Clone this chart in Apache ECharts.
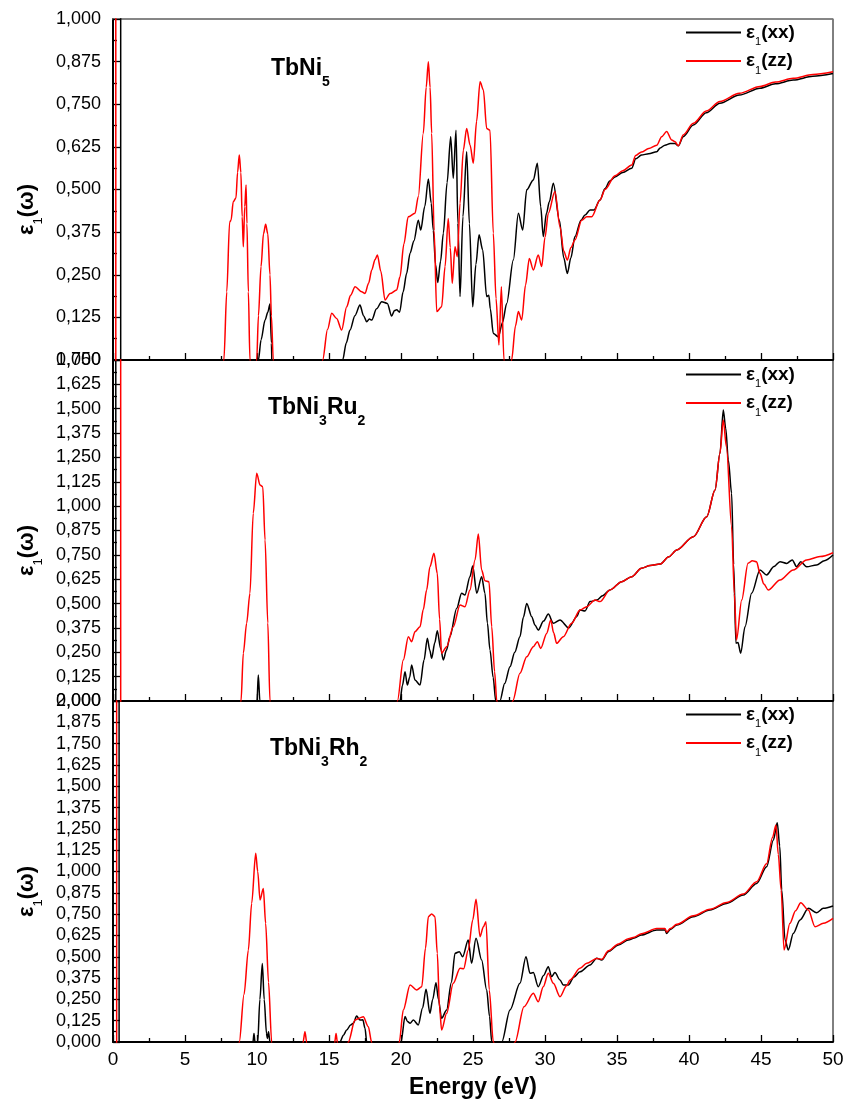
<!DOCTYPE html>
<html><head><meta charset="utf-8">
<script src="https://cdn.jsdelivr.net/npm/echarts@6/dist/echarts.min.js"></script>
<style>html,body{margin:0;padding:0;background:#fff}#c{width:856px;height:1105px}</style>
</head><body><div id="c"></div><script>
// ---- data: [energy (eV), eps1] ; values outside the axis range are clipped by the grid ----
const panelNames = ['TbNi5', 'TbNi3Ru2', 'TbNi3Rh2'];
const yMaxes = [1.0, 1.75, 2.0];
const yInterval = 0.125;
const xMin = 0, xMax = 50, xInterval = 5;

const tbni5_xx = [[0,3],[0.53,3],[0.54,-3],[5,-0.5],[9.9,-0.05],[10.1,0],[10.28,0.059],[10.56,0.117],[10.75,0.14],[10.9,0.164],[11.0,0.05],[11.1,-0.2],[13,-0.4],[15.6,-0.08],[15.95,0],[16.2,0.05],[16.46,0.088],[16.8,0.13],[17.15,0.161],[17.4,0.13],[17.62,0.112],[17.8,0.12],[17.97,0.117],[18.3,0.15],[18.66,0.171],[19.05,0.166],[19.35,0.129],[19.55,0.145],[19.7,0.147],[19.9,0.14],[20.15,0.2],[20.39,0.254],[20.63,0.313],[20.9,0.35],[21.2,0.41],[21.37,0.381],[21.65,0.45],[21.9,0.531],[22.1,0.46],[22.24,0.381],[22.4,0.28],[22.55,0.227],[22.75,0.29],[22.94,0.372],[23.2,0.52],[23.45,0.655],[23.63,0.533],[23.82,0.674],[23.95,0.4],[24.1,0.186],[24.3,0.42],[24.56,0.611],[24.75,0.4],[24.98,0.156],[25.2,0.28],[25.42,0.367],[25.67,0.323],[25.95,0.186],[26.1,0.19],[26.2,0.15],[26.41,0.078],[26.76,0.068],[27.05,0.11],[27.34,0.166],[27.8,0.293],[28.15,0.43],[28.45,0.381],[28.73,0.499],[29.19,0.528],[29.47,0.577],[29.7,0.45],[29.88,0.362],[30.1,0.43],[30.3,0.464],[30.58,0.518],[31.0,0.41],[31.3,0.3],[31.55,0.254],[31.8,0.3],[32.08,0.362],[32.5,0.41],[32.78,0.425],[33.13,0.44],[33.4,0.44],[33.82,0.469],[34.17,0.503],[34.5,0.525],[34.86,0.537],[35.4,0.55],[36.02,0.562],[36.3,0.59],[36.7,0.601],[37.2,0.605],[37.76,0.611],[38.0,0.622],[38.33,0.63],[38.7,0.635],[39.03,0.635],[39.26,0.628],[39.6,0.655],[40.3,0.689],[41.2,0.725],[42.15,0.753],[43.5,0.777],[44.93,0.797],[46,0.81],[47.24,0.821],[48.6,0.832],[50,0.84]];
const tbni5_zz = [[0,3],[0.19,3],[0.2,-3],[4,-0.6],[7.5,-0.1],[7.7,0],[7.9,0.2],[8.1,0.405],[8.2,0.41],[8.35,0.464],[8.54,0.475],[8.65,0.55],[8.77,0.601],[8.88,0.55],[8.97,0.42],[9.05,0.332],[9.15,0.45],[9.24,0.513],[9.3,0.4],[9.4,0.2],[9.51,0],[9.75,-0.12],[9.98,0],[10.1,0.13],[10.28,0.274],[10.45,0.37],[10.6,0.398],[10.75,0.37],[10.9,0.25],[11.0,0.13],[11.13,0],[11.3,-0.3],[14.0,-0.3],[14.56,0],[14.9,0.09],[15.19,0.137],[15.53,0.122],[15.88,0.088],[16.23,0.156],[16.5,0.19],[16.81,0.215],[17.27,0.2],[17.5,0.195],[17.75,0.225],[17.97,0.264],[18.2,0.295],[18.36,0.308],[18.6,0.26],[18.89,0.176],[19.24,0.195],[19.7,0.205],[19.93,0.244],[20.2,0.34],[20.5,0.42],[20.97,0.43],[21.2,0.479],[21.55,0.665],[21.75,0.8],[21.9,0.875],[22.02,0.8],[22.13,0.665],[22.3,0.38],[22.48,0.142],[22.82,0.156],[23.06,0.274],[23.28,0.415],[23.42,0.33],[23.56,0.225],[23.75,0.332],[23.91,0.303],[24.1,0.46],[24.33,0.616],[24.56,0.679],[24.8,0.63],[25.02,0.577],[25.25,0.7],[25.49,0.816],[25.72,0.792],[25.95,0.679],[26.18,0.674],[26.41,0.372],[26.6,0.18],[26.8,0.044],[26.97,0.215],[27.15,0],[27.4,-0.15],[27.68,0],[27.95,0.1],[28.15,0.142],[28.38,0.117],[28.65,0.22],[28.91,0.298],[29.19,0.264],[29.53,0.308],[29.77,0.274],[30.0,0.36],[30.23,0.43],[30.69,0.494],[31.04,0.391],[31.3,0.32],[31.55,0.293],[31.8,0.33],[32.08,0.352],[32.55,0.41],[32.9,0.42],[33.24,0.42],[33.82,0.469],[34.17,0.5],[34.86,0.54],[35.4,0.555],[36.02,0.572],[36.3,0.6],[36.7,0.61],[37.2,0.62],[37.76,0.63],[38.1,0.655],[38.45,0.67],[38.8,0.645],[39.03,0.64],[39.26,0.628],[39.6,0.66],[40.3,0.694],[41.2,0.73],[42.15,0.758],[43.5,0.782],[44.93,0.802],[46,0.815],[47.24,0.826],[48.6,0.837],[50,0.845]];

const tbni3ru2_xx = [[0,5],[0.19,5],[0.2,-5],[5,-1],[9.9,-0.05],[10.0,0],[10.09,0.133],[10.2,0],[10.4,-0.3],[19.5,-0.3],[19.93,0],[20.1,0.08],[20.28,0.15],[20.44,0.082],[20.6,0.12],[20.74,0.185],[20.97,0.108],[21.32,0.082],[21.6,0.21],[21.83,0.322],[22.0,0.26],[22.13,0.219],[22.35,0.3],[22.52,0.361],[22.75,0.27],[22.94,0.21],[23.15,0.26],[23.4,0.33],[23.87,0.476],[24.21,0.553],[24.44,0.544],[24.79,0.638],[24.98,0.693],[25.26,0.553],[25.6,0.638],[25.83,0.553],[26.0,0.4],[26.18,0.262],[26.4,0.12],[26.58,0],[26.7,-0.1],[26.87,0],[27.2,0.09],[27.57,0.176],[27.9,0.25],[28.26,0.33],[28.5,0.43],[28.73,0.501],[29.08,0.433],[29.3,0.39],[29.53,0.364],[29.9,0.41],[30.23,0.446],[30.58,0.399],[31.04,0.416],[31.65,0.375],[32.2,0.433],[32.43,0.467],[32.78,0.462],[33.13,0.51],[33.59,0.518],[34.0,0.54],[34.51,0.57],[35.33,0.612],[36.02,0.638],[36.7,0.681],[37.3,0.695],[37.99,0.703],[38.6,0.74],[39.15,0.775],[40.3,0.843],[41.23,0.946],[41.81,1.083],[42.15,1.271],[42.38,1.493],[42.55,1.4],[42.73,1.237],[42.96,1.066],[43.1,0.7],[43.26,0.296],[43.4,0.3],[43.59,0.245],[43.89,0.381],[44.35,0.553],[44.93,0.672],[45.39,0.647],[45.9,0.69],[46.32,0.715],[46.78,0.706],[47.17,0.724],[47.48,0.689],[47.76,0.715],[48.17,0.689],[48.86,0.698],[49.4,0.72],[50,0.749]];
const tbni3ru2_zz = [[0,5],[0.53,5],[0.54,-5],[5,-1],[8.6,-0.2],[8.89,0],[9.05,0.245],[9.28,0.399],[9.51,0.553],[9.74,0.963],[9.98,1.169],[10.21,1.108],[10.4,1.1],[10.56,0.826],[10.75,0.4],[10.9,0],[11.1,-0.4],[19.4,-0.3],[19.75,0],[20.16,0.21],[20.51,0.33],[20.74,0.304],[20.97,0.356],[21.32,0.381],[21.55,0.47],[21.78,0.57],[22.01,0.689],[22.29,0.758],[22.52,0.655],[22.68,0.42],[22.82,0.245],[23.17,0.279],[23.63,0.381],[24.1,0.493],[24.44,0.484],[24.79,0.57],[25.14,0.724],[25.37,0.857],[25.6,0.672],[25.83,0.617],[26.11,0.612],[26.3,0.381],[26.5,0.15],[26.65,0],[27.2,-0.2],[27.76,0],[28.26,0.142],[28.73,0.227],[29.19,0.279],[29.47,0.304],[29.7,0.27],[30.12,0.347],[30.4,0.416],[30.6,0.35],[30.81,0.296],[31.27,0.33],[31.85,0.399],[32.43,0.467],[32.9,0.484],[33.47,0.518],[33.82,0.51],[34.51,0.57],[35.33,0.612],[36.02,0.638],[36.7,0.681],[37.3,0.695],[37.99,0.703],[38.6,0.74],[39.15,0.775],[40.3,0.843],[41.23,0.946],[41.81,1.083],[42.15,1.271],[42.38,1.442],[42.6,1.305],[42.96,0.895],[43.15,0.55],[43.3,0.313],[43.66,0.518],[44.1,0.707],[44.4,0.72],[44.69,0.715],[44.93,0.655],[45.2,0.6],[45.5,0.57],[46.32,0.621],[47.24,0.672],[48.17,0.724],[49.1,0.741],[50,0.761]];

const tbni3rh2_xx = [[0,5],[0.42,5],[0.43,-5],[5,-1],[9.6,-0.1],[9.72,0],[9.79,0.05],[9.86,0],[9.93,-0.05],[10.05,0],[10.2,0.25],[10.37,0.46],[10.5,0.25],[10.66,0.05],[10.72,0.02],[10.8,0.06],[10.9,0],[11.1,-0.3],[15.4,-0.2],[15.76,0],[16.0,0.04],[16.23,0.07],[16.5,0.1],[16.69,0.11],[16.92,0.152],[17.15,0.129],[17.35,0.13],[17.5,0.08],[17.62,0],[17.8,-0.2],[19.7,-0.2],[20.0,0],[20.28,0.149],[20.45,0.12],[20.63,0.11],[20.86,0.129],[21.2,0.1],[21.5,0.2],[21.74,0.309],[22.01,0.168],[22.2,0.25],[22.43,0.348],[22.6,0.25],[22.82,0.139],[23.17,0.188],[23.5,0.35],[23.75,0.52],[24.05,0.53],[24.28,0.5],[24.67,0.598],[24.9,0.462],[25.21,0.608],[25.6,0.481],[25.95,0.305],[26.15,0.15],[26.3,0],[26.6,-0.15],[27.0,0],[27.57,0.188],[28.26,0.344],[28.68,0.5],[28.96,0.403],[29.19,0.407],[29.53,0.324],[29.9,0.39],[30.23,0.442],[30.46,0.383],[30.69,0.407],[31.04,0.364],[31.27,0.334],[31.62,0.334],[32.0,0.38],[32.43,0.412],[33.13,0.452],[33.59,0.491],[33.94,0.481],[34.4,0.53],[35.1,0.569],[35.79,0.598],[36.2,0.61],[36.7,0.628],[37.76,0.657],[38.33,0.657],[38.45,0.637],[38.7,0.66],[39.15,0.686],[40.3,0.735],[41.46,0.774],[42.61,0.813],[43.77,0.862],[44.7,0.93],[45.39,1.028],[45.86,1.185],[46.13,1.286],[46.3,1.15],[46.44,0.891],[46.67,0.598],[46.9,0.54],[47.24,0.637],[47.71,0.716],[48.29,0.784],[48.87,0.758],[49.33,0.784],[50,0.798]];
const tbni3rh2_zz = [[0,5],[0.25,5],[0.26,-5],[5,-1],[8.5,-0.2],[8.77,0],[9.1,0.28],[9.4,0.54],[9.63,0.813],[9.91,1.107],[10.05,1.0],[10.21,0.833],[10.44,0.901],[10.6,0.696],[10.8,0.35],[11.02,0],[11.2,-0.3],[13.0,-0.2],[13.2,0],[13.33,0.06],[13.45,0],[13.6,-0.2],[15.3,-0.2],[15.4,0],[15.49,0.05],[15.58,0],[15.8,-0.2],[16.1,-0.1],[16.34,0],[16.81,0.129],[17.1,0.14],[17.38,0.148],[17.73,0.09],[17.96,0],[18.2,-0.2],[19.6,-0.2],[19.88,0],[20.16,0.188],[20.63,0.334],[21.09,0.305],[21.44,0.324],[21.7,0.55],[21.9,0.735],[22.13,0.751],[22.36,0.735],[22.52,0.52],[22.68,0.2],[22.82,0.07],[23.17,0.168],[23.63,0.344],[24.1,0.432],[24.35,0.43],[24.67,0.54],[24.98,0.715],[25.21,0.837],[25.49,0.618],[25.72,0.676],[25.9,0.706],[26.13,0.305],[26.41,0],[27.2,-0.25],[27.92,0],[28.54,0.207],[29.19,0.286],[29.53,0.236],[29.88,0.324],[30.23,0.403],[30.58,0.344],[31.04,0.266],[31.5,0.33],[31.74,0.364],[32.43,0.432],[32.9,0.462],[33.59,0.49],[33.94,0.485],[34.4,0.535],[35.1,0.575],[35.79,0.605],[36.2,0.615],[36.7,0.635],[37.76,0.665],[38.33,0.665],[38.45,0.645],[38.7,0.665],[39.15,0.69],[40.3,0.74],[41.46,0.779],[42.61,0.818],[43.77,0.868],[44.7,0.94],[45.39,1.045],[45.8,1.2],[46.04,1.273],[46.2,1.1],[46.4,0.891],[46.6,0.54],[47.01,0.696],[47.4,0.77],[47.76,0.817],[48.29,0.774],[48.75,0.676],[49.33,0.696],[50,0.725]];

const xxSeries = [tbni5_xx, tbni3ru2_xx, tbni3rh2_xx];
const zzSeries = [tbni5_zz, tbni3ru2_zz, tbni3rh2_zz];
const seriesNames = ['ε1(xx)', 'ε1(zz)'];

// ---- layout ----
const L = 113, W = 720, H = 341, tops = [19, 360, 701];
const LBL = 'Liberation Sans', TTL = 'Liberation Sans';

const chart = echarts.init(document.getElementById('c'), null, {renderer: 'canvas'});

const grids = tops.map(t => ({left: L, top: t, width: W, height: H, show: true, borderColor: '#000', borderWidth: 1, backgroundColor: 'transparent'}));

const xAxes = tops.map((t, i) => ({
  type: 'value', gridIndex: i, min: xMin, max: xMax, interval: xInterval,
  axisLine: {show: true, onZero: false, lineStyle: {color: '#000', width: 2}},
  axisTick: {show: true, inside: true, length: 7, lineStyle: {color: '#000', width: 1.3}},
  minorTick: {show: true, splitNumber: 2, length: 4, lineStyle: {color: '#000', width: 1.3}},
  splitLine: {show: false},
  axisLabel: {show: i === 2, margin: 8, fontFamily: LBL, fontSize: 19, color: '#000'},
  name: i === 2 ? 'Energy (eV)' : '', nameLocation: 'middle', nameGap: 34,
  nameTextStyle: {fontFamily: TTL, fontWeight: 'bold', fontSize: 23, color: '#000'}
}));
xAxes.push({type: 'value', gridIndex: 0, position: 'top', min: xMin, max: xMax,
  axisLine: {show: true, onZero: false, lineStyle: {color: '#888', width: 1.5}},
  axisTick: {show: false}, axisLabel: {show: false}, splitLine: {show: false}});

const yAxes = yMaxes.map((m, i) => ({
  type: 'value', gridIndex: i, min: 0, max: m, interval: yInterval,
  axisLine: {show: true, onZero: false, lineStyle: {color: '#000', width: 2}},
  axisTick: {show: true, inside: true, length: 7, lineStyle: {color: '#000', width: 1.3}},
  minorTick: {show: true, splitNumber: 2, length: 4, lineStyle: {color: '#000', width: 1.3}},
  splitLine: {show: false},
  axisLabel: {margin: 12, fontFamily: LBL, fontSize: 18, color: '#000',
    formatter: v => v.toFixed(3).replace('.', ','), showMinLabel: true, showMaxLabel: true},
  name: '{e|ε}{s|1}{e|(ω)}', nameLocation: 'middle', nameGap: 62,
  nameTextStyle: {padding: [0, 40, 0, 0], rich: {
    e: {fontFamily: TTL, fontWeight: 'bold', fontSize: 22, color: '#000', lineHeight: 36},
    s: {fontFamily: TTL, fontSize: 13, color: '#000', lineHeight: 36, verticalAlign: 'bottom'}
  }}
}));

const series = [];
for (let i = 0; i < 3; i++) {
  series.push({name: seriesNames[0], type: 'line', xAxisIndex: i, yAxisIndex: i, data: xxSeries[i],
    symbol: 'none', clip: true, smooth: 0.3, smoothMonotone: 'x', lineStyle: {color: '#000', width: 1.5}, itemStyle: {color: '#000'}, z: 2});
  series.push({name: seriesNames[1], type: 'line', xAxisIndex: i, yAxisIndex: i, data: zzSeries[i],
    symbol: 'none', clip: true, smooth: 0.3, smoothMonotone: 'x', lineStyle: {color: '#ff0000', width: 1.5}, itemStyle: {color: '#ff0000'}, z: 3});
}

const legRich = {
  e: {fontFamily: TTL, fontWeight: 'bold', fontSize: 19, color: '#000', lineHeight: 30},
  s: {fontFamily: TTL, fontSize: 11, color: '#000', lineHeight: 30, verticalAlign: 'bottom'}
};
const legendRowCenters = [33, 375, 715];
const legends = legendRowCenters.map(c => ({
  data: seriesNames, orient: 'vertical', left: 681, top: c - 15, itemWidth: 55, itemHeight: 2, itemGap: 4,
  icon: 'rect', selectedMode: false,
  formatter: n => n === seriesNames[0] ? '{e|ε}{s|1}{e|(xx)}' : '{e|ε}{s|1}{e|(zz)}',
  textStyle: {rich: legRich}
}));

const nameRich = {
  m: {fontFamily: TTL, fontWeight: 'bold', fontSize: 23, color: '#000', lineHeight: 40},
  s: {fontFamily: TTL, fontWeight: 'bold', fontSize: 14, color: '#000', lineHeight: 40, verticalAlign: 'bottom'}
};
const nameTexts = ['{m|TbNi}{s|5}', '{m|TbNi}{s|3}{m|Ru}{s|2}', '{m|TbNi}{s|3}{m|Rh}{s|2}'];
const namePos = [[271, 69], [268, 408], [270, 749]];
const graphic = nameTexts.map((t, i) => ({
  type: 'text', x: namePos[i][0], y: namePos[i][1], z: 10,
  style: {text: t, rich: nameRich, verticalAlign: 'middle', align: 'left'}
}));

chart.setOption({
  animation: false,
  backgroundColor: '#fff',
  grid: grids, xAxis: xAxes, yAxis: yAxes, series: series, legend: legends, graphic: graphic
});
</script></body></html>
